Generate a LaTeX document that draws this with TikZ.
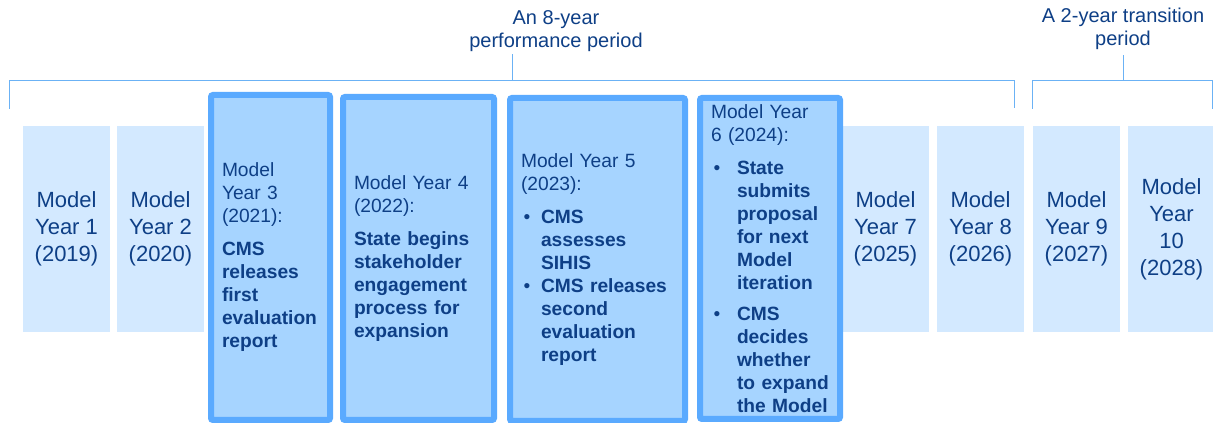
\documentclass[tikz,border=0pt]{standalone}
\usepackage{fontspec}
\setmainfont{Liberation Sans}
\usetikzlibrary{positioning}
\setlength{\parindent}{0pt}

\definecolor{yeartext}{HTML}{0E3F86}
\definecolor{yearpale}{HTML}{D3E9FF}
\definecolor{yearfill}{HTML}{A6D4FF}
\definecolor{yearedge}{HTML}{5AAAFF}
\definecolor{spanline}{HTML}{6BB2F5}

% bullet with hanging indent for the milestone lists
\newcommand{\yrbullet}[1]{\par\hangindent=#1\hangafter=1\makebox[#1][l]{\hspace{2pt}\textbullet}}

\tikzset{
  year/.style={fill=yearpale, text=yeartext, align=center, inner sep=0pt,
    minimum width=65.25pt, minimum height=154.5pt,
    font=\fontsize{16.5}{20.25}\selectfont},
  milestone/.style={draw=yearedge, line width=4.5pt, fill=yearfill, rounded corners=1.5pt,
    text=yeartext, align=left, inner xsep=8.25pt, inner ysep=2pt, minimum height=#1,
    font=\fontsize{14.4}{17.25}\selectfont},
  span/.style={draw=spanline, line width=0.75pt},
  spanlabel/.style={text=yeartext, align=center, font=\fontsize{15}{17.25}\selectfont}
}

\begin{document}
\begin{tikzpicture}[x=0.75pt,y=-0.75pt]
  \useasboundingbox (0,0) rectangle (1213,423);

  % plain years
  \node[year] (y1) at (66.5,229) {Model\\Year 1\\(2019)};
  \node[year] (y2) at (160.5,229) {Model\\Year 2\\(2020)};
  \node[year] (y7) at (885.5,229) {Model\\Year 7\\(2025)};
  \node[year] (y8) at (980.5,229) {Model\\Year 8\\(2026)};
  \node[year] (y9) at (1076.5,229) {Model\\Year 9\\(2027)};
  \node[year] (y10) at (1171.5,229) {Model\\Year\\10\\(2028)};

  % years with milestones
  \node[milestone=243.75pt, text width=72.75pt] (y3) at (270.5,257.5)
    {Model\\Year 3\\(2021):\par\vspace{7.5pt}
     \textbf{CMS\\releases\\first\\evaluation\\report}};
  \node[milestone=242.25pt, text width=96.75pt] (y4) at (418.5,258.5)
    {Model Year 4\\(2022):\par\vspace{7.5pt}
     \textbf{State begins\\stakeholder\\engagement\\process for\\expansion}};
  \node[milestone=242.25pt, text width=114.75pt] (y5) at (597.5,259.5)
    {Model Year 5\\(2023):\par\vspace{7.5pt}
     \yrbullet{15pt}\textbf{CMS\newline assesses\newline SIHIS}
     \yrbullet{15pt}\textbf{CMS releases\newline second\newline evaluation\newline report}\par};
  \node[milestone=240.75pt, text width=88.5pt] (y6) at (770,258.5)
    {Model Year\\6 (2024):\par\vspace{7.5pt}
     \yrbullet{19.5pt}\textbf{State\newline submits\newline proposal\newline for next\newline Model\newline iteration}\par\vspace{5.5pt}
     \yrbullet{19.5pt}\textbf{CMS\newline decides\newline whether\newline to expand\newline the Model}\par};

  % periods
  \node[spanlabel] (perf) at (556,31) {An 8-year\\performance period};
  \node[spanlabel] (trans) at (1123,29) {A 2-year transition\\period};

  \coordinate (perfL) at (9,109);
  \coordinate (perfR) at (1014,108);
  \coordinate (perfT) at (512,54);
  \coordinate (transL) at (1032,109);
  \coordinate (transR) at (1212,109);

  \draw[span] (perfL) |- (perfR |- 0,81) -- (perfR);
  \draw[span] (perfT |- 0,81) -- (perfT);
  \draw[span] (transL) |- (transR |- 0,81) -- (transR);
  \draw[span] (trans.south |- 0,81) -- (trans.south);
\end{tikzpicture}
\end{document}
